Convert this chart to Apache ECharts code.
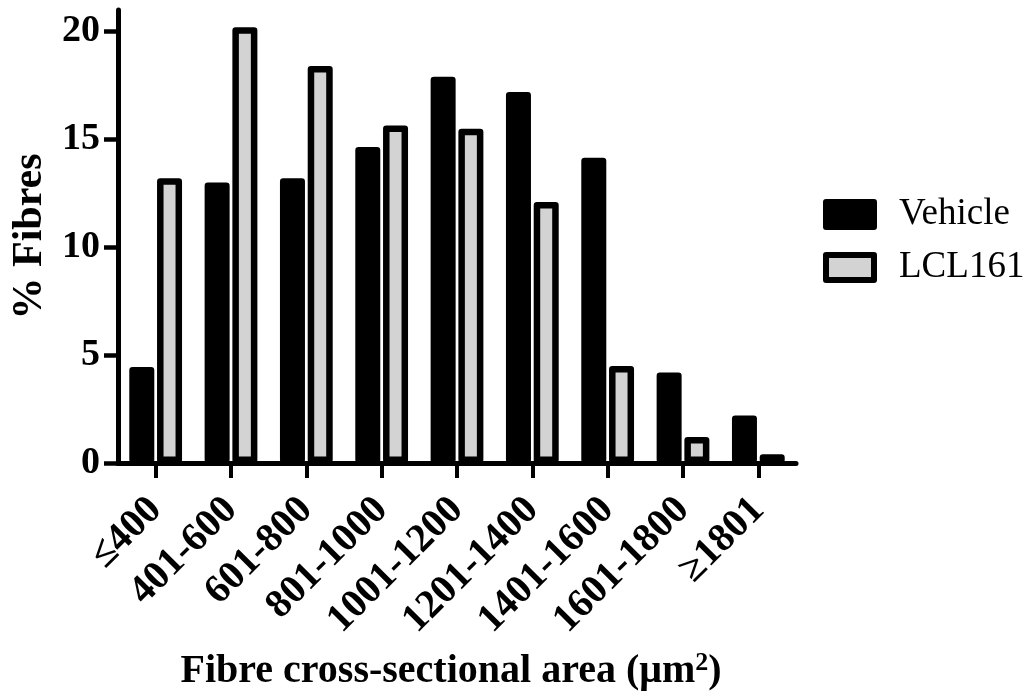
<!DOCTYPE html>
<html>
<head>
<meta charset="utf-8">
<script src="https://cdn.jsdelivr.net/npm/echarts@6/dist/echarts.min.js"></script>
<style>
html,body{margin:0;padding:0;background:#fff;}
#chart{width:1030px;height:694px;}
</style>
</head>
<body>
<div id="chart"></div>
<script>
var categories = ['≤400','401-600','601-800','801-1000','1001-1200','1201-1400','1401-1600','1601-1800','≥1801'];
var vehicle = [4.45, 13.0, 13.2, 14.65, 17.9, 17.2, 14.15, 4.2, 2.2];
var lcl161 = [13.2, 20.2, 18.4, 15.65, 15.5, 12.1, 4.5, 1.2, 0.4];
var yTicks = [0, 5, 10, 15, 20];

var FONT = 'Liberation Serif';
var chart = echarts.init(document.getElementById('chart'), null, {renderer: 'canvas'});
chart.setOption({
  animation: false,
  backgroundColor: '#fff',
  grid: {left: 118, right: 234, top: 10, bottom: 231, containLabel: false, outerBoundsMode: 'none'},
  legend: {
    orient: 'vertical',
    left: 823,
    top: 196,
    padding: 0,
    itemGap: 16,
    itemWidth: 48,
    itemHeight: 25,
    icon: 'rect',
    selectedMode: false,
    itemStyle: {borderWidth: 6, borderColor: '#000', borderJoin: 'round'},
    textStyle: {fontFamily: FONT, fontSize: 37, color: '#000', lineHeight: 36, padding: [0, 0, 0, 20]},
    data: ['Vehicle', 'LCL161']
  },
  xAxis: {
    type: 'category',
    data: categories,
    name: '{a|Fibre cross-sectional area (μm}{s|2}{a|)}',
    nameLocation: 'middle',
    nameGap: 187,
    nameMoveOverlap: false,
    nameTextStyle: {
      padding: [0, 12, 0, 0],
      rich: {
        a: {fontFamily: FONT, fontWeight: 'bold', fontSize: 40, color: '#000', lineHeight: 44},
        s: {fontFamily: FONT, fontWeight: 'bold', fontSize: 26, color: '#000', lineHeight: 44, verticalAlign: 'top'}
      }
    },
    axisLine: {lineStyle: {color: '#000', width: 5}},
    axisTick: {show: true, alignWithLabel: true, length: 15, lineStyle: {color: '#000', width: 4}},
    axisLabel: {interval: 0, rotate: 45, margin: 41, fontFamily: FONT, fontWeight: 'bold', fontSize: 40, color: '#000'},
    splitLine: {show: false}
  },
  yAxis: {
    type: 'value',
    min: 0,
    max: 21,
    interval: 5,
    name: '% Fibres',
    nameLocation: 'middle',
    nameGap: 67,
    nameRotate: 90,
    nameMoveOverlap: false,
    nameTextStyle: {fontFamily: FONT, fontWeight: 'bold', fontSize: 42, color: '#000'},
    axisLine: {show: true, lineStyle: {color: '#000', width: 5}},
    axisTick: {show: true, length: 14, customValues: yTicks, lineStyle: {color: '#000', width: 4.5}},
    axisLabel: {margin: 18, customValues: yTicks, fontFamily: FONT, fontWeight: 'bold', fontSize: 38, color: '#000'},
    splitLine: {show: false}
  },
  series: [
    {
      name: 'Vehicle',
      type: 'bar',
      data: vehicle,
      barWidth: 25,
      barGap: '11%',
      itemStyle: {color: '#000', borderColor: '#000', borderWidth: 6.5, borderJoin: 'round'}
    },
    {
      name: 'LCL161',
      type: 'bar',
      data: lcl161,
      barWidth: 25,
      barGap: '11%',
      itemStyle: {color: '#d3d3d3', borderColor: '#000', borderWidth: 6.5, borderJoin: 'round'}
    }
  ]
});
</script>
</body>
</html>
